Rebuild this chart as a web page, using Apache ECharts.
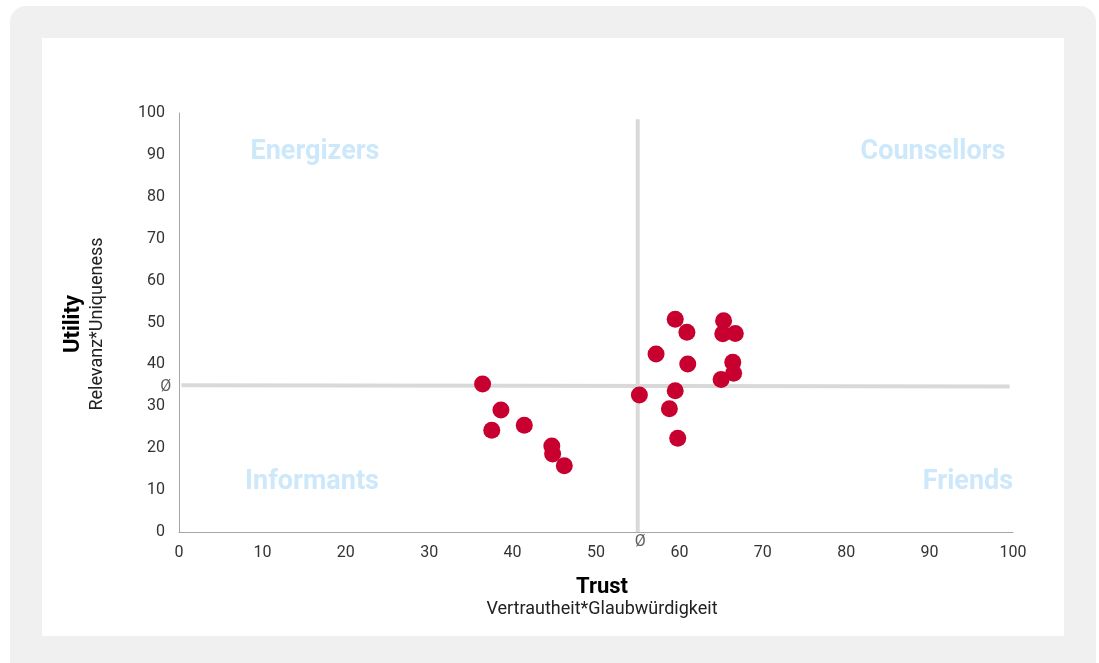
<!DOCTYPE html>
<html>
<head>
<meta charset="utf-8">
<script src="https://cdn.jsdelivr.net/npm/echarts@6/dist/echarts.min.js"></script>
<style>
  html, body { margin: 0; padding: 0; background: #ffffff; width: 1099px; height: 663px; overflow: hidden; }
  #panel { position: absolute; left: 10px; top: 6px; width: 1086px; height: 672px; background: #f0f0f0; border-radius: 16px; }
  #card { position: absolute; left: 42px; top: 38px; width: 1022px; height: 598px; background: #ffffff; }
  #chart { position: absolute; left: 0; top: 0; width: 1099px; height: 663px; }
</style>
</head>
<body>
<div id="panel"></div>
<div id="card"></div>
<div id="chart"></div>
<script>
// Trust (x) and Utility (y) scores per media brand
const trust   = [36.4, 38.6, 37.5, 41.4, 44.7, 44.8, 46.2, 55.2, 57.2, 59.5, 60.9, 61.0, 59.5, 58.8, 59.8, 65.3, 65.2, 66.7, 66.4, 66.5, 65.0];
const utility = [35.3, 29.1, 24.3, 25.5, 20.5, 18.6, 15.8, 32.7, 42.5, 50.8, 47.7, 40.1, 33.7, 29.4, 22.4, 50.4, 47.3, 47.4, 40.5, 37.9, 36.4];

// Averages drawn as cross lines
const meanTrust = 55;
const meanUtility = 35;

const axisTicks = [0, 10, 20, 30, 40, 50, 60, 70, 80, 90, 100];
const quadrantNames = ['Energizers', 'Counsellors', 'Informants', 'Friends'];
const xTitle = 'Trust', xSubtitle = 'Vertrautheit*Glaubwürdigkeit';
const yTitle = 'Utility', ySubtitle = 'Relevanz*Uniqueness';
const meanSign = 'Ø';

const points = trust.map((t, i) => [t, utility[i]]);
const FONT = 'Roboto, "Noto Sans", sans-serif';
const labelColor = '#333333';
const quadColor = '#cde8fb';
const meanLineStyle = { color: '#d9d9d9', width: 4 };

const chart = echarts.init(document.getElementById('chart'), null, { renderer: 'canvas' });

const option = {
  backgroundColor: 'transparent',
  animation: false,
  grid: { left: 179, right: 86, top: 113, bottom: 131, containLabel: false },
  xAxis: {
    type: 'value', min: axisTicks[0], max: axisTicks[axisTicks.length - 1], interval: 10,
    axisLine: { show: true, lineStyle: { color: '#a6a6a6', width: 1 } },
    axisTick: { show: false },
    splitLine: { show: false },
    axisLabel: { color: labelColor, fontFamily: FONT, fontSize: 16, margin: 13 }
  },
  yAxis: {
    type: 'value', min: axisTicks[0], max: axisTicks[axisTicks.length - 1], interval: 10,
    axisLine: { show: true, lineStyle: { color: '#a6a6a6', width: 1 } },
    axisTick: { show: false },
    splitLine: { show: false },
    axisLabel: { color: labelColor, fontFamily: FONT, fontSize: 16, margin: 14, padding: [3, 0, 0, 0] }
  },
  series: [
    // vertical average line (Trust)
    {
      type: 'line', clip: false, silent: true, symbol: 'none', z: 1,
      lineStyle: meanLineStyle,
      data: [[meanTrust, 0], [meanTrust, 98.5]]
    },
    // horizontal average line (Utility)
    {
      type: 'line', clip: false, silent: true, symbol: 'none', z: 1,
      lineStyle: meanLineStyle,
      data: [[0.3, meanUtility], [99.6, meanUtility - 0.3]]
    },
    // Ø markers next to the axes
    {
      type: 'scatter', clip: false, silent: true, symbolSize: 0, z: 3,
      label: { show: true, position: 'inside', formatter: meanSign, color: labelColor, fontFamily: FONT, fontSize: 16 },
      data: [[meanTrust + 0.3, -2.4], [-1.6, meanUtility - 0.4]]
    },
    {
      type: 'scatter',
      clip: false,
      symbolSize: 17,
      itemStyle: { color: '#c8002f', opacity: 1 },
      data: points,
      z: 5
    }
  ],
  graphic: [
    { type: 'text', x: 315, y: 152, style: { text: quadrantNames[0], fill: quadColor, font: 'bold 27px ' + FONT, textAlign: 'center', textVerticalAlign: 'middle' } },
    { type: 'text', x: 933, y: 152, style: { text: quadrantNames[1], fill: quadColor, font: 'bold 27px ' + FONT, textAlign: 'center', textVerticalAlign: 'middle' } },
    { type: 'text', x: 312, y: 482, style: { text: quadrantNames[2], fill: quadColor, font: 'bold 27px ' + FONT, textAlign: 'center', textVerticalAlign: 'middle' } },
    { type: 'text', x: 968, y: 482, style: { text: quadrantNames[3], fill: quadColor, font: 'bold 27px ' + FONT, textAlign: 'center', textVerticalAlign: 'middle' } },
    { type: 'text', x: 602, y: 587, style: { text: xTitle, fill: '#000', font: 'bold 22px ' + FONT, textAlign: 'center', textVerticalAlign: 'middle' } },
    { type: 'text', x: 602, y: 609, style: { text: xSubtitle, fill: '#222', font: '18px ' + FONT, textAlign: 'center', textVerticalAlign: 'middle' } },
    { type: 'text', x: 73, y: 324, rotation: Math.PI / 2, style: { text: yTitle, fill: '#000', font: 'bold 22px ' + FONT, textAlign: 'center', textVerticalAlign: 'middle' } },
    { type: 'text', x: 97, y: 324, rotation: Math.PI / 2, style: { text: ySubtitle, fill: '#222', font: '18px ' + FONT, textAlign: 'center', textVerticalAlign: 'middle' } }
  ]
};

chart.setOption(option);
</script>
</body>
</html>
